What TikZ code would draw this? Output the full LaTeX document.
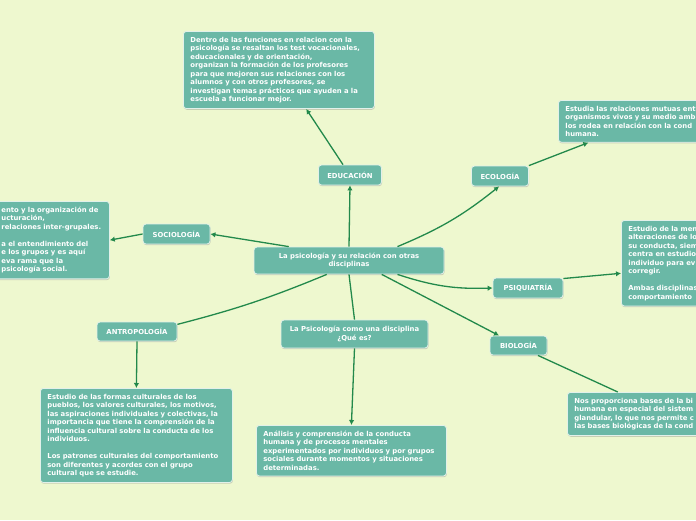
\documentclass[tikz,border=0pt]{standalone}
\usepackage{fontspec}
\setmainfont{DejaVu Sans}
\usetikzlibrary{arrows.meta,shadows}
\definecolor{bgc}{HTML}{EEF8CF}
\definecolor{boxc}{HTML}{6AB8A6}
\definecolor{edgec}{HTML}{22894B}
\definecolor{rimc}{HTML}{E2F1EA}

\begin{document}
\begin{tikzpicture}[x=1pt, y=-1pt,
  box/.style={draw=rimc, line width=0.8pt, fill=boxc, rounded corners=3pt, text=white,
    font=\fontsize{6.85}{8.5}\selectfont\bfseries,
    drop shadow={shadow xshift=0.5pt, shadow yshift=-1.2pt, opacity=0.35, fill=black!50}},
  tag/.style={box, minimum height=20pt, inner sep=2pt, align=center},
  note/.style={box, anchor=north west, align=left, inner xsep=7pt, inner ysep=5.5pt},
  link/.style={edgec, line width=1.3pt},
  tip/.style={link, -{Latex[length=5pt, width=5.5pt]}}]
  \fill[bgc] (0,0) rectangle (696,520);
  \useasboundingbox (0,0) rectangle (696,520);
  \clip (0,0) rectangle (696,520);

  % centro y ramas
  \node[tag, minimum width=190pt, minimum height=27pt] (root) at (349,260.5)
    {La psicología y su relación con otras\\disciplinas};
  \node[tag, minimum width=63pt] (edu) at (350,175) {EDUCACIÓN};
  \node[tag, minimum width=57pt] (eco) at (500,176) {ECOLOGÍA};
  \node[tag, minimum width=67pt] (soc) at (176.5,234) {SOCIOLOGÍA};
  \node[tag, minimum width=70pt] (psq) at (528,288) {PSIQUIATRÍA};
  \node[tag, minimum width=80pt, minimum height=19pt] (antro) at (137,331.5) {ANTROPOLOGÍA};
  \node[tag, minimum width=57pt, minimum height=19pt] (bio) at (518.5,345.5) {BIOLOGÍA};
  \node[tag, minimum width=147pt, minimum height=28pt] (que) at (354.5,334)
    {La Psicología como una disciplina\\¿Qué es?};

  % textos
  \node[note, text width=177pt] (eduTxt) at (183,31)
    {Dentro de las funciones en relacion con la\\
     psicología se resaltan los test vocacionales,\\
     educacionales y de orientación,\\
     organizan la formación de los profesores\\
     para que mejoren sus relaciones con los\\
     alumnos y con otros profesores, se\\
     investigan temas prácticos que ayuden a la\\
     escuela a funcionar mejor.};
  \node[note, text width=177pt] (ecoTxt) at (558,100)
    {Estudia las relaciones mutuas ent\\
     organismos vivos y su medio amb\\
     los rodea en relación con la cond\\
     humana.};
  \node[note, text width=101pt] (socTxt) at (-6,201)
    {ento y la organización de\\
     ucturación,\\
     relaciones inter-grupales.\\[8.5pt]
     a el entendimiento del\\
     e los grupos y es aquí\\
     eva rama que la\\
     psicología social.};
  \node[note, text width=177pt] (psqTxt) at (621,220)
    {Estudio de la men\\
     alteraciones de lo\\
     su conducta, siem\\
     centra en estudio\\
     individuo para ev\\
     corregir.\\[8.5pt]
     Ambas disciplinas\\
     comportamiento};
  \node[note, text width=178pt] (antroTxt) at (40,388)
    {Estudio de las formas culturales de los\\
     pueblos, los valores culturales, los motivos,\\
     las aspiraciones individuales y colectivas, la\\
     importancia que tiene la comprensión de la\\
     influencia cultural sobre la conducta de los\\
     individuos.\\[8.5pt]
     Los patrones culturales del comportamiento\\
     son diferentes y acordes con el grupo\\
     cultural que se estudie.};
  \node[note, text width=176pt] (queTxt) at (256,425)
    {Análisis y comprensión de la conducta\\
     humana y de procesos mentales\\
     experimentados por individuos y por grupos\\
     sociales durante momentos y situaciones\\
     determinadas.};
  \node[note, text width=177pt] (bioTxt) at (567,392)
    {Nos proporciona bases de la bi\\
     humana en especial del sistem\\
     glandular, lo que nos permite c\\
     las bases biológicas de la cond};

  % conectores
  \draw[tip] (root.north) -- (edu.south);
  \draw[tip] (edu.124) -- (eduTxt.305);
  \draw[tip] (root.16) to[bend right=8] (eco.265);
  \draw[tip] (eco.north east) -- (ecoTxt.198);
  \draw[tip] (root.167) -- (soc.east);
  \draw[tip] (soc.west) -- (socTxt.east);
  \draw[tip] (root.344) to[bend right=10] (psq.west);
  \draw[tip] (psq.15) -- (psqTxt.186);
  \draw[link] (root.212) to[bend left=4] (antro.10);
  \draw[tip] (antro.south) -- (antroTxt.north);
  \draw[link] (root.south) -- (que.north);
  \draw[tip] (que.south) -- (queTxt.north);
  \draw[tip] (root.337) -- (bio.153);
  \draw[link] (bio.333) -- (bioTxt.154);
\end{tikzpicture}
\end{document}
